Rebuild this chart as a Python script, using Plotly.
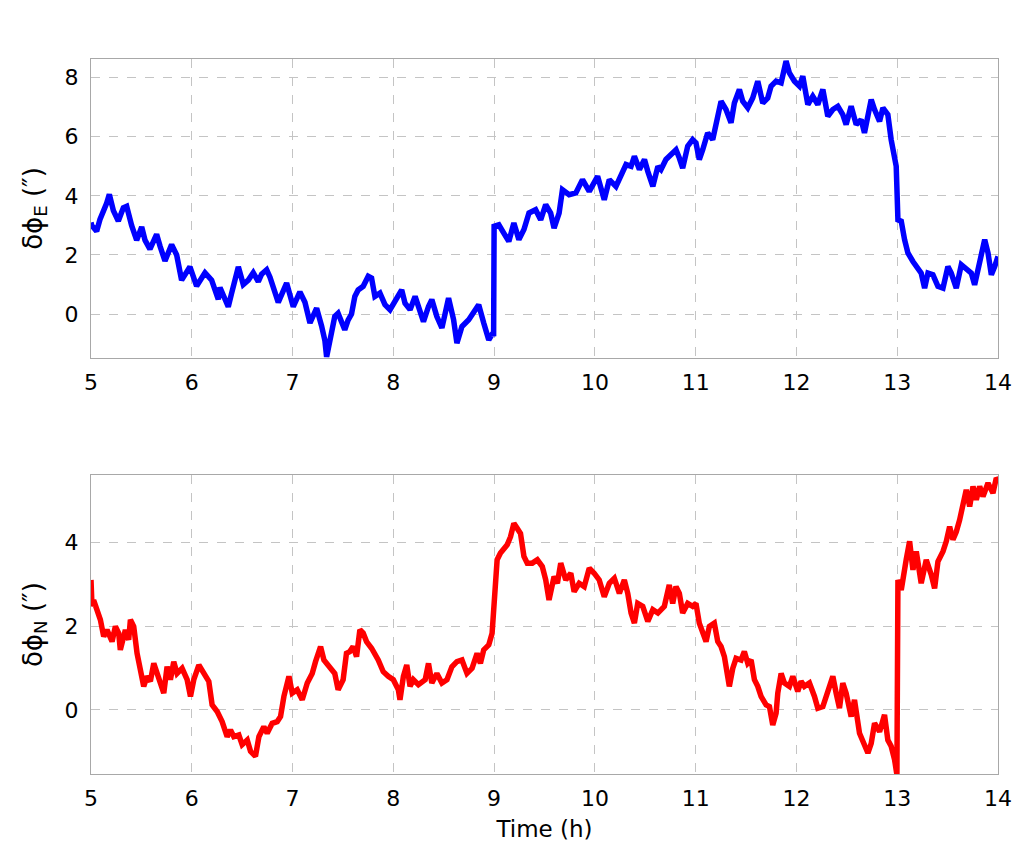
import plotly.graph_objects as go

# ---- East component (top, blue) ----
t_east = [5.0, 5.007, 5.056, 5.089, 5.155, 5.182, 5.222, 5.271, 5.321, 5.354, 5.403, 5.453, 5.503, 5.536,
          5.585, 5.651, 5.685, 5.734, 5.800, 5.850, 5.899, 5.982, 6.048, 6.131, 6.197, 6.263, 6.280,
          6.362, 6.395, 6.462, 6.511, 6.561, 6.610, 6.660, 6.693, 6.743, 6.776, 6.825, 6.858, 6.941,
          7.007, 7.073, 7.123, 7.173, 7.239, 7.288, 7.321, 7.338, 7.388,
          7.419, 7.452, 7.485, 7.518, 7.551, 7.585, 7.618, 7.651, 7.701, 7.751, 7.784, 7.817, 7.867,
          7.917, 7.967, 8.017, 8.083, 8.116, 8.166, 8.216, 8.256, 8.299, 8.349, 8.382, 8.432, 8.482,
          8.548, 8.598, 8.631, 8.681, 8.748, 8.797, 8.847, 8.897, 8.947, 8.987, 8.995, 9.0, 9.047,
          9.096, 9.146, 9.196, 9.246, 9.296, 9.346, 9.412, 9.462, 9.512, 9.561, 9.595, 9.645, 9.678,
          9.744, 9.811, 9.877, 9.944, 10.027, 10.093, 10.143, 10.209, 10.259, 10.309, 10.359, 10.392,
          10.442, 10.492, 10.525, 10.575, 10.625, 10.656,
          10.705, 10.755, 10.805, 10.838, 10.871, 10.921, 10.970, 11.003, 11.036, 11.070, 11.119,
          11.169, 11.202, 11.252, 11.301, 11.351, 11.384, 11.434, 11.467, 11.517, 11.566, 11.616,
          11.666, 11.715, 11.748, 11.798, 11.848, 11.897, 11.930, 11.980, 12.030, 12.063, 12.113,
          12.162, 12.212, 12.262, 12.311, 12.361, 12.411, 12.460, 12.493, 12.543, 12.593, 12.642,
          12.675, 12.742, 12.775, 12.825, 12.858, 12.907, 12.940, 12.974, 12.990, 13.007, 13.040,
          13.073, 13.106, 13.156, 13.205, 13.238, 13.272, 13.305, 13.354, 13.404, 13.454, 13.503,
          13.536, 13.586, 13.636, 13.685, 13.735, 13.768, 13.818, 13.868, 13.901, 13.934, 13.967, 14.0]
d_east = [3.1, 3.0, 2.8, 3.2, 3.75, 4.05, 3.5, 3.15, 3.6, 3.65, 3.0, 2.5, 2.95, 2.5,
          2.2, 2.7, 2.3, 1.8, 2.35, 2.0, 1.15, 1.6, 0.95, 1.4, 1.15, 0.5, 0.9,
          0.25, 0.7, 1.6, 1.0, 1.15, 1.4, 1.1, 1.35, 1.5, 1.25, 0.7, 0.4, 1.05,
          0.25, 0.75, 0.4, -0.3, 0.2, -0.4, -0.9, -1.45, -0.65,
          -0.08, 0.03, -0.3, -0.53, -0.2, 0.0, 0.6, 0.82, 0.94, 1.28, 1.22, 0.6, 0.71,
          0.32, 0.15, 0.43, 0.82, 0.37, 0.15, 0.6, 0.15, -0.25, 0.26, 0.49, -0.08, -0.47,
          0.54, -0.19, -0.98, -0.42, -0.19, 0.03, 0.32, -0.3, -0.87, -0.64, -0.75, 2.97, 3.02,
          2.74, 2.46, 3.08, 2.52, 2.86, 3.42, 3.53, 3.19, 3.7, 3.42, 2.91, 3.42, 4.21,
          4.04, 4.1, 4.55, 4.15, 4.66, 3.87, 4.55, 4.32, 4.66, 5.06, 5.0, 5.34,
          4.89, 5.23, 4.83, 4.32, 5.0, 4.89,
          5.23, 5.4, 5.56, 5.28, 4.94, 5.68, 5.9, 5.79, 5.23, 5.56, 6.13,
          5.9, 6.52, 7.2, 6.92, 6.47, 7.14, 7.6, 7.2, 6.98, 7.31, 7.88,
          7.14, 7.31, 7.71, 7.88, 7.82, 8.56, 8.16, 7.88, 7.71, 8.05, 7.09,
          7.37, 7.09, 7.6, 6.69, 6.92, 7.03, 6.75, 6.41, 7.03, 6.41, 6.58,
          6.13, 7.26, 6.92, 6.52, 6.98, 6.75, 5.9, 5.23, 5.0, 3.19, 3.14,
          2.52, 2.07, 1.78, 1.56, 1.39, 0.88, 1.39, 1.33, 0.94, 0.88, 1.61,
          1.39, 0.88, 1.67, 1.5, 1.39, 0.99, 1.84, 2.52, 2.07, 1.33, 1.61, 1.95]

# ---- North component (bottom, red) ----
t_north = [5.0, 5.010, 5.026, 5.060, 5.093, 5.126, 5.159, 5.209, 5.242, 5.275, 5.291, 5.341, 5.374,
           5.391, 5.424, 5.457, 5.490, 5.523, 5.556, 5.589, 5.623, 5.672, 5.722, 5.755, 5.788, 5.821,
           5.854, 5.904, 5.954, 5.987, 6.020, 6.070, 6.119, 6.169, 6.202, 6.252, 6.301, 6.351, 6.384,
           6.417, 6.467, 6.500, 6.550, 6.583, 6.632, 6.666, 6.715, 6.748, 6.798, 6.848, 6.881, 6.914,
           6.964, 6.997, 7.046, 7.096, 7.146, 7.195, 7.228, 7.278, 7.311, 7.361,
           7.419, 7.452, 7.502, 7.535, 7.568, 7.601, 7.635, 7.668, 7.701, 7.734, 7.784, 7.850, 7.900,
           7.950, 8.0, 8.050, 8.066, 8.100, 8.133, 8.166, 8.199, 8.249, 8.316, 8.349, 8.382, 8.432,
           8.482, 8.532, 8.581, 8.631, 8.681, 8.731, 8.781, 8.831, 8.864, 8.897, 8.947, 8.980, 8.997,
           9.013, 9.030, 9.063, 9.096, 9.130, 9.163, 9.196, 9.229, 9.262, 9.296, 9.329, 9.379, 9.429,
           9.478, 9.512, 9.545, 9.595, 9.628, 9.661, 9.711, 9.761, 9.794, 9.844, 9.894, 9.944, 9.993,
           10.043, 10.093, 10.143, 10.193, 10.243, 10.292, 10.326, 10.359, 10.392, 10.425, 10.475,
           10.525, 10.575, 10.625,
           10.689, 10.738, 10.772, 10.805, 10.838, 10.871, 10.921, 10.970, 11.003, 11.036, 11.070,
           11.103, 11.136, 11.185, 11.219, 11.252, 11.285, 11.318, 11.334, 11.368, 11.401, 11.450,
           11.483, 11.517, 11.550, 11.583, 11.616, 11.649, 11.699, 11.732, 11.765, 11.798, 11.815,
           11.848, 11.881, 11.930, 11.964, 12.013, 12.046, 12.079, 12.129, 12.179, 12.212, 12.262,
           12.311, 12.361, 12.394, 12.427, 12.460, 12.493, 12.543, 12.576, 12.626, 12.675, 12.709,
           12.742, 12.775, 12.825, 12.874, 12.907, 12.940, 12.974, 12.997, 13.007, 13.040, 13.089,
           13.123, 13.156, 13.189, 13.238, 13.288, 13.338, 13.371, 13.404, 13.454, 13.487, 13.520,
           13.553, 13.586, 13.619, 13.652, 13.685, 13.719, 13.752, 13.785, 13.818, 13.851, 13.901,
           13.950, 13.983, 14.0]
d_north = [3.1, 2.47, 2.62, 2.35, 2.15, 1.75, 1.91, 1.63, 1.99, 1.83, 1.43, 1.91, 1.67,
           2.15, 1.99, 1.35, 0.99, 0.56, 0.8, 0.68, 1.11, 0.8, 0.4, 1.03, 0.72, 1.15,
           0.87, 0.99, 0.72, 0.32, 0.72, 1.07, 0.87, 0.68, 0.12, -0.04, -0.28, -0.64, -0.48,
           -0.64, -0.6, -0.83, -0.72, -0.99, -1.11, -0.64, -0.4, -0.56, -0.32, -0.28, -0.16, 0.32,
           0.8, 0.4, 0.48, 0.24, 0.64, 0.87, 1.15, 1.51, 1.19, 1.03,
           0.87, 0.48, 0.72, 1.35, 1.39, 1.51, 1.27, 1.91, 1.83, 1.63, 1.47, 1.19, 0.91,
           0.8, 0.72, 0.48, 0.24, 0.8, 1.07, 0.56, 0.72, 0.6, 0.72, 1.11, 0.64, 0.87,
           0.64, 0.72, 1.03, 1.15, 1.19, 0.87, 0.99, 1.35, 1.11, 1.43, 1.55, 1.83, 2.47,
           3.18, 3.58, 3.74, 3.86, 3.94, 4.13, 4.45, 4.33, 4.21, 3.66, 3.5, 3.5, 3.58,
           3.42, 3.1, 2.62, 3.18, 3.02, 3.5, 3.1, 3.26, 2.82, 3.02, 2.94, 3.38, 3.26,
           3.1, 2.7, 3.02, 3.14, 2.78, 3.1, 2.78, 2.31, 2.07, 2.54, 2.47,
           2.11, 2.39, 2.31,
           2.47, 2.98, 2.54, 2.94, 2.78, 2.31, 2.54, 2.47, 2.54, 2.07, 1.83,
           1.63, 1.99, 2.07, 1.63, 1.51, 1.27, 0.87, 0.56, 0.99, 1.23, 1.19,
           1.39, 1.11, 1.19, 0.72, 0.56, 0.32, 0.12, 0.08, -0.36, -0.08, 0.4,
           0.87, 0.64, 0.56, 0.8, 0.44, 0.68, 0.56, 0.64, 0.32, 0.04, 0.08,
           0.4, 0.8, 0.4, 0.04, 0.64, 0.4, -0.16, 0.24, -0.56, -0.83, -1.03,
           -0.8, -0.32, -0.52, -0.12, -0.72, -0.87, -1.19, -1.55, 3.1, 2.86, 3.58,
           4.02, 3.34, 3.78, 3.02, 3.58, 3.22, 2.9, 3.54, 3.78, 4.02, 4.37,
           4.06, 4.25, 4.53, 4.93, 5.25, 4.85, 5.33, 5.01, 5.33, 5.09, 5.41,
           5.17, 5.53, 5.49]

x_ticks = [5, 6, 7, 8, 9, 10, 11, 12, 13, 14]
y_ticks_east = [0, 2, 4, 6, 8]
y_ticks_north = [0, 2, 4]

FONT = "DejaVu Sans, Liberation Sans, Arial, sans-serif"

fig = go.Figure()
fig.add_trace(go.Scatter(x=t_east, y=d_east, mode="lines", xaxis="x", yaxis="y",
                         line=dict(color="#0000ff", width=5.5), showlegend=False))
fig.add_trace(go.Scatter(x=t_north, y=d_north, mode="lines", xaxis="x2", yaxis="y2",
                         line=dict(color="#ff0000", width=5.5), showlegend=False))

common_x = dict(range=[5, 14], tickvals=x_ticks, showgrid=True, gridcolor="#c4c4c4",
                griddash="dash", gridwidth=1, showline=True, mirror=True, linecolor="#a8a8a8",
                linewidth=1, ticks="outside", ticklen=5, tickcolor="rgba(0,0,0,0)",
                tickfont=dict(size=22, color="black", family=FONT), zeroline=False)
common_y = dict(showgrid=True, gridcolor="#c4c4c4", griddash="dash", gridwidth=1,
                showline=True, mirror=True, linecolor="#a8a8a8", linewidth=1,
                ticks="outside", ticklen=7, tickcolor="rgba(0,0,0,0)",
                tickfont=dict(size=22, color="black", family=FONT), zeroline=False)

# page body has an 8px margin, so the figure is placed to compensate
fig.update_layout(
    width=1016, height=846,
    paper_bgcolor="white", plot_bgcolor="white",
    margin=dict(l=83, r=26, t=51, b=80),
    font=dict(family=FONT, color="black"),
    xaxis=dict(common_x, domain=[0, 1], anchor="y"),
    yaxis=dict(common_y, domain=[0.582, 1.0], range=[-1.48, 8.63], tickvals=y_ticks_east,
               anchor="x",
               title=dict(text="δϕ<sub>E</sub> (″)", font=dict(size=26, family=FONT), standoff=14)),
    xaxis2=dict(common_x, domain=[0, 1], anchor="y2",
                title=dict(text="Time (h)", font=dict(size=23, family=FONT), standoff=10)),
    yaxis2=dict(common_y, domain=[0, 0.418], range=[-1.53, 5.6], tickvals=y_ticks_north,
                anchor="x2",
                title=dict(text="δϕ<sub>N</sub> (″)", font=dict(size=26, family=FONT), standoff=14)),
)

fig.write_html("out.html")
